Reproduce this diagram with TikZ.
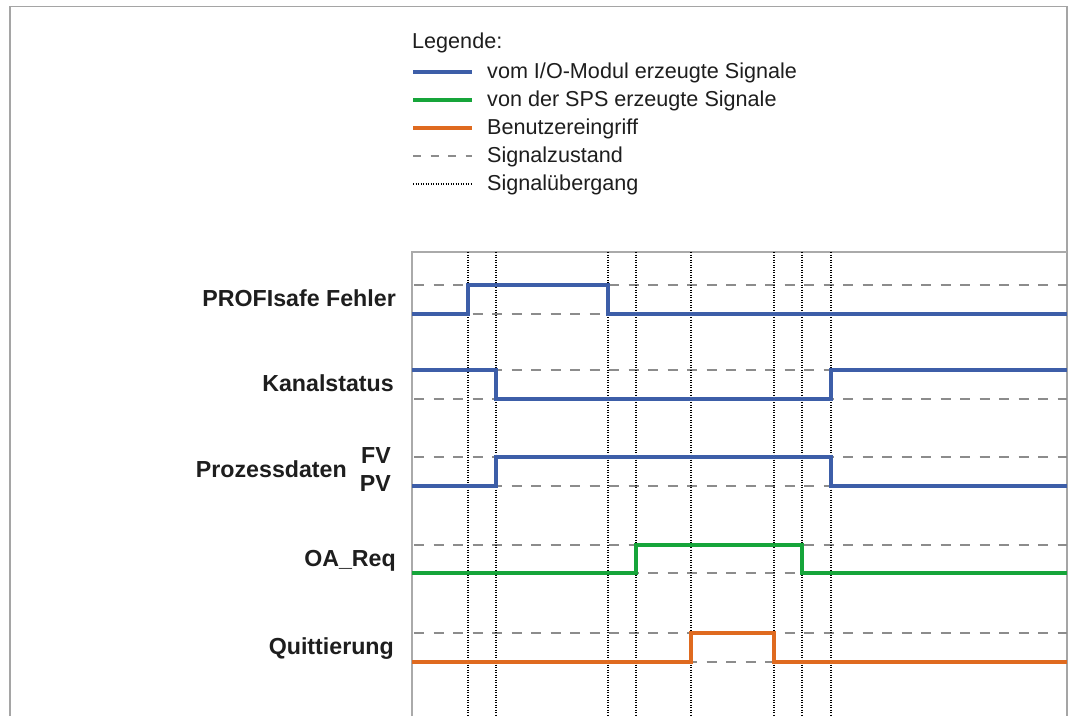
\documentclass[tikz,border=0pt]{standalone}
\usepackage{fontspec}
\setmainfont{Liberation Sans}
\definecolor{sigblue}{RGB}{61,94,168}
\definecolor{siggreen}{RGB}{22,165,58}
\definecolor{sigorange}{RGB}{223,106,31}
\definecolor{levelgray}{RGB}{140,140,140}
\definecolor{framegray}{RGB}{165,165,165}
\definecolor{chartgray}{RGB}{170,170,170}
\definecolor{inkgray}{RGB}{30,30,30}
\begin{document}
\begin{tikzpicture}[x=1pt,y=-1pt,
  frame/.style={draw=framegray, line width=1.6pt},
  chartedge/.style={draw=chartgray, line width=1.4pt},
  level/.style={draw=levelgray, line width=2.5pt, dash pattern=on 10pt off 9.5pt},
  legendlevel/.style={draw=levelgray, line width=2.5pt, dash pattern=on 8pt off 9.5pt},
  transition/.style={draw=black, line width=1.4pt, dash pattern=on 1.2pt off 1.3pt},
  wave/.style={line width=3.7pt, line join=miter, line cap=butt},
  io/.style={wave, draw=sigblue},
  plc/.style={wave, draw=siggreen},
  user/.style={wave, draw=sigorange},
  signame/.style={font=\fontsize{23.2}{26}\selectfont\bfseries, text=inkgray, anchor=base east, inner sep=0pt},
  legtext/.style={font=\fontsize{21.6}{24}\selectfont, text=inkgray, anchor=base west, inner sep=0pt}
]
\useasboundingbox (0,0) rectangle (1068,716);
\fill[white] (0,0) rectangle (1068,716);

% outer frame, open at the bottom
\draw[frame] (10,716) -- (10,6.5) -- (1067,6.5) -- (1067,716);

% legend
\node[legtext] (legtitle) at (412,48) {Legende:};
\draw[io]  (413,72) -- (472,72);
\node[legtext] (legio) at (487,78.5) {vom I/O-Modul erzeugte Signale};
\draw[plc] (413,100) -- (472,100);
\node[legtext] (legplc) at (487,106.5) {von der SPS erzeugte Signale};
\draw[user] (413,128) -- (472,128);
\node[legtext] (leguser) at (487,134.5) {Benutzereingriff};
\draw[legendlevel] (413,156) -- (472,156);
\node[legtext] (leglevel) at (487,162.5) {Signalzustand};
\draw[transition] (413,184) -- (472,184);
\node[legtext] (legtrans) at (487,190.5) {Signalübergang};

% chart area edges
\draw[chartedge] (412,716) -- (412,252) -- (1067,252);

% signal state levels
\foreach \lv in {285,314,370,399,457,486,545,573,633,662}
  \draw[level] (414,\lv) -- (1067,\lv);

% transition markers
\foreach \tx in {468,496,608,636,691,774,802,831}
  \draw[transition] (\tx,252) -- (\tx,716);

% waveforms
\draw[io]   (412,314) -- (468,314) -- (468,285) -- (608,285) -- (608,314) -- (1067,314);
\draw[io]   (412,370) -- (496,370) -- (496,399) -- (831,399) -- (831,370) -- (1067,370);
\draw[io]   (412,486) -- (496,486) -- (496,457) -- (831,457) -- (831,486) -- (1067,486);
\draw[plc]  (412,573) -- (636,573) -- (636,545) -- (802,545) -- (802,573) -- (1067,573);
\draw[user] (412,662) -- (691,662) -- (691,633) -- (774,633) -- (774,662) -- (1067,662);

% signal names
\node[signame] (nprofi) at (396,306) {PROFIsafe Fehler};
\node[signame] (nkanal) at (394,391.5) {Kanalstatus};
\node[signame] (nproz)  at (347,477) {Prozessdaten};
\node[signame] (nfv)    at (391,463.5) {FV};
\node[signame] (npv)    at (391,491.5) {PV};
\node[signame] (noa)    at (396,566.7) {OA\_Req};
\node[signame] (nquit)  at (394,654.5) {Quittierung};
\end{tikzpicture}
\end{document}
